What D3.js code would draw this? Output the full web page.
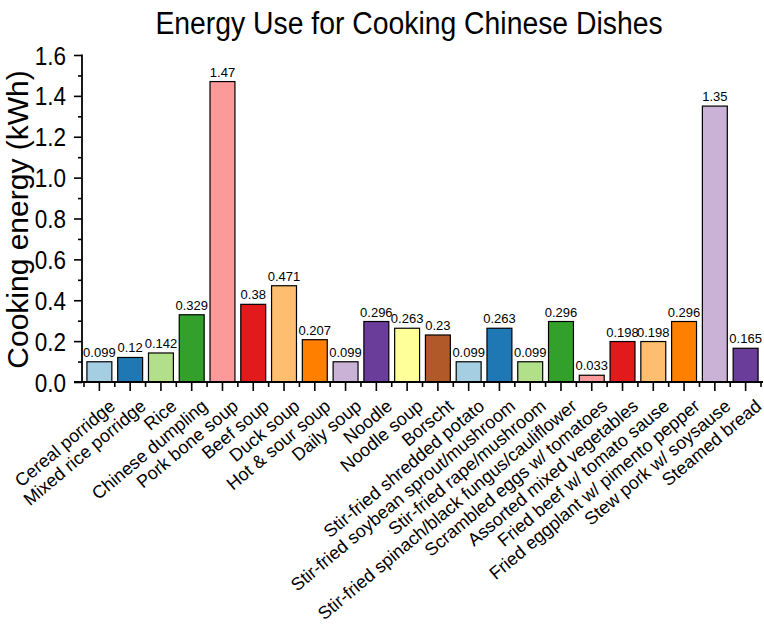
<!DOCTYPE html>
<html>
<head>
<meta charset="utf-8">
<script src="https://cdn.jsdelivr.net/npm/d3@7"></script>
<style>
  body { margin: 0; background: #fff; }
  text { font-family: "Liberation Sans", Arial, sans-serif; fill: #000; }
</style>
</head>
<body>
<div id="chart"></div>
<script>
// data
var dishes = ["Cereal porridge", "Mixed rice porridge", "Rice", "Chinese dumpling",
  "Pork bone soup", "Beef soup", "Duck soup", "Hot & sour soup", "Daily soup",
  "Noodle", "Noodle soup", "Borscht", "Stir-fried shredded potato",
  "Stir-fried soybean sprout/mushroom", "Stir-fried rape/mushroom",
  "Stir-fried spinach/black fungus/cauliflower", "Scrambled eggs w/ tomatoes",
  "Assorted mixed vegetables", "Fried beef w/ tomato sause",
  "Fried eggplant w/ pimento pepper", "Stew pork w/ soysause", "Steamed bread"];
var energy = [0.099, 0.12, 0.142, 0.329, 1.47, 0.38, 0.471, 0.207, 0.099,
  0.296, 0.263, 0.23, 0.099, 0.263, 0.099, 0.296, 0.033, 0.198, 0.198,
  0.296, 1.35, 0.165];
var yTicks = [0, 0.2, 0.4, 0.6, 0.8, 1.0, 1.2, 1.4, 1.6];
var yMinorTicks = [0.1, 0.3, 0.5, 0.7, 0.9, 1.1, 1.3, 1.5];

var data = dishes.map(function(d, i) { return {name: d, value: energy[i]}; });

var W = 764, H = 629;
var svg = d3.select("#chart").append("svg")
    .attr("width", W)
    .attr("height", H);

var x = d3.scaleBand()
    .domain(dishes)
    .range([84, 761])
    .paddingInner(0.19)
    .paddingOuter(0.095);

var y = d3.scaleLinear()
    .domain([0, 1.6])
    .range([382, 55]);

var color = d3.scaleOrdinal()
    .domain(d3.range(12))
    .range(d3.schemePaired);

// title (font in the original is a bit narrow, so squeeze it)
svg.append("text")
    .attr("transform", "translate(409,34) scale(0.9,1)")
    .attr("text-anchor", "middle")
    .style("font-size", "31.5px")
    .text("Energy Use for Cooking Chinese Dishes");

// y label
svg.append("text")
    .attr("transform", "translate(27.5," + ((y(0) + y(1.6)) / 2 + 1) + ") rotate(-90)")
    .attr("text-anchor", "middle")
    .style("font-size", "30px")
    .text("Cooking energy (kWh)");

// bars
svg.selectAll("rect.bar")
  .data(data)
  .enter()
  .append("rect")
    .attr("class", "bar")
    .attr("x", function(d) { return x(d.name); })
    .attr("y", function(d) { return y(d.value); })
    .attr("width", x.bandwidth())
    .attr("height", function(d) { return y(0) - y(d.value); })
    .attr("fill", function(d, i) { return color(i % 12); })
    .attr("stroke", "#000")
    .attr("stroke-width", 1.2);

// value labels
svg.selectAll("text.val")
  .data(data)
  .enter()
  .append("text")
    .attr("class", "val")
    .attr("x", function(d) { return x(d.name) + x.bandwidth() / 2; })
    .attr("y", function(d) { return y(d.value) - 5; })
    .attr("text-anchor", "middle")
    .style("font-size", "13px")
    .text(function(d) { return String(d.value); });

// y axis
var yAxis = svg.append("g")
    .attr("transform", "translate(82,0)")
    .call(d3.axisLeft(y).tickValues(yTicks).tickFormat(d3.format(".1f")).tickSizeOuter(0).tickSize(8).tickPadding(9.8));
yAxis.selectAll(".tick text")
    .style("font-size", "25px")
    .attr("dy", "0.36em")
    .attr("transform", "scale(0.9,1)");
yAxis.select(".domain").attr("d", "M0," + (y(1.6) - 0.5) + "V" + (y(0) + 1));
yAxis.selectAll(".tick line").attr("stroke-width", 1.6);
yAxis.select(".domain").attr("stroke-width", 1.8);

svg.append("g")
    .attr("transform", "translate(82,0)")
    .call(d3.axisLeft(y).tickValues(yMinorTicks).tickFormat("").tickSize(4).tickSizeOuter(0))
    .call(function(g) { g.select(".domain").remove(); })
    .selectAll(".tick line").attr("stroke-width", 1.6);

// x axis
var xAxis = svg.append("g")
    .attr("transform", "translate(0," + y(0) + ")")
    .call(d3.axisBottom(x).tickSize(9).tickSizeOuter(0).tickFormat(""));
xAxis.select(".domain").attr("d", "M74,0H763").attr("stroke-width", 1.8);
xAxis.selectAll(".tick line").attr("stroke-width", 1.6);

// minor ticks at band edges
var edge0 = x.range()[0] + x.step() * (x.paddingOuter() - x.paddingInner() / 2);
svg.append("g")
  .selectAll("line")
  .data(d3.range(dishes.length + 1))
  .enter()
  .append("line")
    .attr("x1", function(i) { return edge0 + i * x.step(); })
    .attr("x2", function(i) { return edge0 + i * x.step(); })
    .attr("y1", y(0))
    .attr("y2", y(0) + 5)
    .attr("stroke", "#000")
    .attr("stroke-width", 1.6);

// category labels
svg.append("g")
  .selectAll("text")
  .data(dishes)
  .enter()
  .append("text")
    .attr("transform", function(d) {
      return "translate(" + (x(d) + x.bandwidth() / 2 + 17) + ",408) rotate(-40)";
    })
    .attr("text-anchor", "end")
    .style("font-size", "18px")
    .text(function(d) { return d; });
</script>
</body>
</html>
